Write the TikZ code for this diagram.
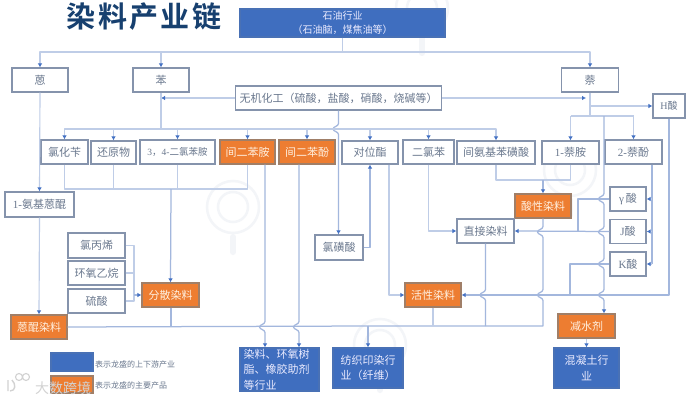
\documentclass[tikz,border=0pt]{standalone}
\usepackage{fontspec}
\setmainfont{Noto Sans CJK SC}
\newfontfamily\lat{Liberation Serif}
\newfontfamily\ttl[LetterSpace=8]{Noto Sans CJK SC Bold}
\usetikzlibrary{arrows.meta}
\definecolor{lnk}{HTML}{BFCDE7}
\definecolor{lnkd}{HTML}{A3B7DD}
\definecolor{tipb}{HTML}{4472C4}
\definecolor{frame}{HTML}{8593AC}
\definecolor{bluef}{HTML}{3F6EBF}
\definecolor{orangef}{HTML}{ED7D31}
\definecolor{txt}{HTML}{6A788E}
\definecolor{ttlc}{HTML}{17406F}
\definecolor{wmk}{HTML}{F3F5F8}
\definecolor{wmb}{HTML}{D2D2D2}
\newcommand{\hop}[2]{-- (#1,#2-5.5) .. controls (#1,#2-2.5) and (#1-5.5,#2-2.5) .. (#1-5.5,#2) .. controls (#1-5.5,#2+2.5) and (#1,#2+2.5) .. (#1,#2+5.5)}
\tikzset{
  x=1pt,y=-1pt,
  base/.style={inner sep=0pt,align=center,line width=1.1pt,font=\fontsize{11}{15}\selectfont},
  wbox/.style={base,draw=frame,fill=white,text=txt},
  obox/.style={base,draw=gray!70!orangef,fill=orangef,text=orange!12!white},
  bbox/.style={base,draw=bluef!85!gray,fill=bluef,text=blue!8!white},
  ln/.style={draw=lnk,line width=1.15pt,line join=round},
  lnd/.style={draw=lnkd,line width=1.25pt,line join=round},
  arr/.style={-{Latex[length=4pt,width=4.5pt,color=tipb]}},
  wmloupe/.style={draw=wmk,line width=2.5pt},
}
\begin{document}
\begin{tikzpicture}
\useasboundingbox (0,0) rectangle (687,401);
\fill[white] (0,0) rectangle (687,401);
% faint background watermark
\foreach \cx/\cy in {233/207,422/8,570/170,380/345}{
  \draw[wmloupe] (\cx,\cy) circle (26pt);
  \draw[wmloupe] (\cx,\cy) circle (15pt);
  \draw[wmk,line width=6pt,line cap=round] (\cx,\cy+30) -- (\cx,\cy+45);
}
% title
\node[text=ttlc,font=\fontsize{29}{32}\ttl] (title) at (144,17) {染料产业链};
% nodes
\node[bbox,minimum width=205pt,minimum height=28pt,font=\fontsize{10}{14}\selectfont] (top) at (342.5,23) {石油行业\\（石油脑，煤焦油等）};
\node[wbox,minimum width=56pt,minimum height=24pt] (an) at (40,80) {蒽};
\node[wbox,minimum width=56pt,minimum height=24pt] (ben) at (161,80) {苯};
\node[wbox,minimum width=57pt,minimum height=24pt] (nai) at (590,80) {萘};
\node[wbox,minimum width=206pt,minimum height=24pt] (wj) at (338.5,98) {无机化工（硫酸，盐酸，硝酸，烧碱等）};
\node[wbox,minimum width=32pt,minimum height=24pt,font=\fontsize{10}{12}\selectfont] (hs) at (669,106) {{\lat H}酸};
\node[wbox,minimum width=47pt,minimum height=24pt] (lhb) at (64.5,152) {氯化苄};
\node[wbox,minimum width=45pt,minimum height=23pt] (hyw) at (113.5,152.5) {还原物};
\node[wbox,minimum width=75pt,minimum height=24pt,font=\fontsize{9.5}{12}\selectfont] (elb) at (177.5,152) {{\lat 3}，{\lat 4-}二氯苯胺};
\node[obox,minimum width=55pt,minimum height=24pt] (jea) at (247.5,152) {间二苯胺};
\node[obox,minimum width=56pt,minimum height=24pt] (jef) at (307,152) {间二苯酚};
\node[wbox,minimum width=56pt,minimum height=23pt] (dwz) at (370,152.5) {对位酯};
\node[wbox,minimum width=51pt,minimum height=24pt] (elbz) at (428.5,152) {二氯苯};
\node[wbox,minimum width=78pt,minimum height=23pt] (jaj) at (496,152.5) {间氨基苯磺酸};
\node[wbox,minimum width=57pt,minimum height=23pt] (yna) at (570.5,152.5) {{\lat 1-}萘胺};
\node[wbox,minimum width=57pt,minimum height=24pt] (enf) at (633.5,152) {{\lat 2-}萘酚};
\node[wbox,minimum width=69pt,minimum height=25pt] (ajeq) at (39.5,204.5) {{\lat 1-}氨基蒽醌};
\node[wbox,minimum width=57pt,minimum height=25pt] (lbx) at (96.5,245.5) {氯丙烯};
\node[wbox,minimum width=57pt,minimum height=24pt] (hyy) at (96.5,273) {环氧乙烷};
\node[wbox,minimum width=57pt,minimum height=24pt] (ls) at (96.5,301) {硫酸};
\node[obox,minimum width=57pt,minimum height=24pt] (fs) at (170.5,295) {分散染料};
\node[obox,minimum width=56pt,minimum height=24pt] (eq) at (39,327) {蒽醌染料};
\node[wbox,minimum width=48pt,minimum height=25pt] (lhs) at (339,247.5) {氯磺酸};
\node[obox,minimum width=56pt,minimum height=24pt] (sx) at (543,206) {酸性染料};
\node[wbox,minimum width=57pt,minimum height=24pt] (zj) at (485.5,231) {直接染料};
\node[obox,minimum width=56pt,minimum height=24pt] (hx) at (433,295) {活性染料};
\node[wbox,minimum width=36pt,minimum height=24pt] (gs) at (628,199) {{\lat γ}\,酸};
\node[wbox,minimum width=36pt,minimum height=24pt] (js) at (628,231.5) {{\lat J}酸};
\node[wbox,minimum width=36pt,minimum height=24pt] (ks) at (628,264) {{\lat K}酸};
\node[obox,minimum width=57pt,minimum height=24pt] (js2) at (586.5,326) {减水剂};
\node[bbox,minimum width=79pt,minimum height=43pt,align=left,text width=72pt,font=\fontsize{11}{15.5}\selectfont] (r1) at (279.5,369.5) {染料、环氧树\\脂、橡胶助剂\\等行业};
\node[bbox,minimum width=70pt,minimum height=40pt,text width=64pt,font=\fontsize{11}{15.5}\selectfont] (r2) at (368,368) {纺织印染行\\业（纤维）};
\node[bbox,minimum width=65pt,minimum height=40pt,font=\fontsize{11}{15.5}\selectfont] (r3) at (586.5,368) {混凝土行\\业};
% legend
\node[bbox,minimum width=42pt,minimum height=18pt] (lg1) at (72,362) {};
\node[obox,minimum width=42pt,minimum height=17pt] (lg2) at (72,384.5) {};
\node[anchor=west,text=txt,inner sep=0pt,font=\fontsize{8}{10}\selectfont] (lt1) at (95,364) {表示龙盛的上下游产业};
\node[anchor=west,text=txt,inner sep=0pt,font=\fontsize{8}{10}\selectfont] (lt2) at (95,385) {表示龙盛的主要产品};
% junction coordinates
\coordinate (busT) at (342.5,52);
\coordinate (busB) at (161,129);
\coordinate (busN) at (590,116);
\coordinate (busL) at (171,189);
\coordinate (busR) at (543,180);
\coordinate (busS) at (134,295);
\coordinate (busX) at (604,116);
\coordinate (busH) at (652,199);
\coordinate (busY) at (171,327);
\coordinate (busZ) at (368,326);
% top
\draw[ln] (top.south) -- (busT);
\draw[ln,arr] (busT) -| (an.north);
\draw[ln,arr] (busT) -| (ben.north);
\draw[ln,arr] (busT) -| (nai.north);
% inorganic
\draw[ln,arr] (wj.west) -- (wj.west -| ben);
\draw[ln,arr] (wj.east) -- (586,98);
\draw[lnd,arr] (wj.south) \hop{338.5}{129} -- (lhs.north -| wj);
\draw[lnd,arr] (lhs.east) -| (dwz.south);
% benzene
\draw[ln] (ben.south) -- (busB);
\foreach \n in {lhb,hyw,elb,jea,jef,dwz,elbz,jaj}{\draw[ln,arr] (busB) -| (\n.north);}
% lower collector of benzene group
\draw[ln] (lhb.south) |- (busL);
\draw[ln] (hyw.south) |- (busL);
\draw[ln] (elb.south) -- (elb.south |- busL);
\draw[ln] (jea.south) |- (busL);
\draw[lnd,arr] (busL) -- (fs.north);
\draw[lnd,arr] (jea.south -| 265,0) \hop{265}{327} -- (r1.north -| 265,0);
\draw[lnd,arr] (jef.south -| 299,0) \hop{299}{327} -- (r1.north -| 299,0);
% anthracene
\draw[ln,arr] (an.south) -- (ajeq.north);
\draw[ln,arr] (ajeq.south) -- (eq.north);
% disperse inputs
\draw[ln] (lbx.east) -| (busS);
\draw[ln] (hyy.east) -- (hyy.east -| busS);
\draw[ln] (ls.east) -| (busS);
\draw[lnd,arr] (busS) -- (fs.west);
% collector bottom
\draw[lnd] (fs.south -| busY) -- (busY);
\draw[lnd] (eq.east) -- (busZ);
\draw[lnd,arr] (busZ) -- (r2.north);
% ester to reactive
\draw[ln,arr] (dwz.south -| 389,0) |- (hx.west);
\draw[ln,arr] (elbz.south) |- (zj.west);
% aminobenzenesulfonic & naphthylamine
\draw[ln] (jaj.south) |- (busR);
\draw[ln] (yna.south) |- (busR);
\draw[lnd,arr] (busR) -- (sx.north);
\draw[lnd] (sx.south) \hop{543}{232} \hop{543}{295} -- (543,326) -- (busZ);
\draw[ln] (hx.south) -- (hx.south |- busZ);
\draw[lnd] (zj.south) \hop{485.5}{295} -- (485.5,326);
% naphthalene
\draw[ln] (nai.south) -- (busN);
\draw[ln,arr] (590,106) -- (hs.west);
\draw[ln] (busN -| yna) -- (busN -| enf);
\draw[ln,arr] (busN -| yna) -- (yna.north);
\draw[ln,arr] (busN -| enf) -- (enf.north);
\draw[lnd,arr] (busX) \hop{604}{199} \hop{604}{232} \hop{604}{264} \hop{604}{295} -- (js2.north -| busX);
% acids
\draw[lnd] (gs.west) -- (578,199) -- (578,231.5);
\draw[lnd,arr] (js.west) -- (zj.east);
\draw[lnd] (ks.west) -- (570,264) -- (570,295);
\draw[lnd,arr] (hs.south) |- (hx.east);
\draw[lnd] (enf.south -| busH) -- (652,264);
\draw[ln,arr] (busH) -- (gs.east);
\draw[ln,arr] (652,231.5) -- (js.east);
\draw[ln,arr] (652,264) -- (ks.east);
\draw[ln,arr] (js2.south) -- (r3.north);
% screenshot watermark
\draw[wmb,line width=1.4pt] (8,380) -- (8,391) (10,391) .. controls (16,391) and (16,384) .. (12,380);
\draw[wmb,line width=1.1pt] (19,377) circle (3.5pt) (26,377) circle (3.5pt);
\node[anchor=west,inner sep=0pt,text=wmb,font=\fontsize{14}{16}\selectfont] (wm) at (35,388) {大数跨境};
\end{tikzpicture}
\end{document}
